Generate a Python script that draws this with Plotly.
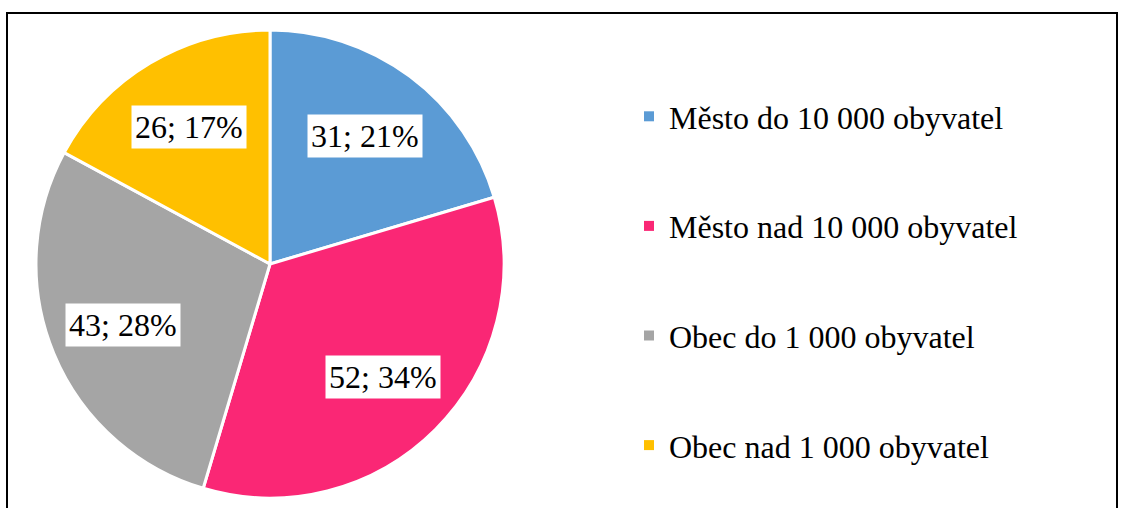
import math
import plotly.graph_objects as go

# Respondents by place of residence
categories = ["Město do 10 000 obyvatel", "Město nad 10 000 obyvatel",
              "Obec do 1 000 obyvatel", "Obec nad 1 000 obyvatel"]
counts = [31, 52, 43, 26]
percent_labels = ["21%", "34%", "28%", "17%"]
colors = ["#5B9BD5", "#FA2775", "#A5A5A5", "#FFC000"]

W, H = 1124, 508
cx, cy, R = 270, 264, 234  # pie centre and radius in pixels
SERIF = "Times New Roman, Liberation Serif, serif"

fig = go.Figure()
fig.add_trace(go.Pie(
    labels=categories,
    values=counts,
    sort=False,
    direction="clockwise",
    rotation=0,
    marker=dict(colors=colors, line=dict(color="white", width=3)),
    textinfo="none",
    hoverinfo="label+value+percent",
    showlegend=False,
    domain=dict(x=[(cx - R) / W, (cx + R) / W],
                y=[1 - (cy + R) / H, 1 - (cy - R) / H]),
))

# Legend entries (one group each so they can be spaced apart)
for name, col in zip(categories, colors):
    fig.add_trace(go.Scatter(
        x=[None], y=[None], mode="markers", name=name, legendgroup=name,
        marker=dict(symbol="square", size=10, color=col),
    ))

# Data labels in white boxes at each slice's mid angle
total = sum(counts)
start = 0.0
annotations = []
for v, pct in zip(counts, percent_labels):
    mid = (start + v / 2) / total * 2 * math.pi
    start += v
    r = 0.68 * R
    px = cx + r * math.sin(mid)
    py = cy - r * math.cos(mid)
    annotations.append(dict(
        x=px / W, y=1 - py / H, xref="paper", yref="paper",
        xanchor="center", yanchor="middle",
        text=f"{v}; {pct}", showarrow=False,
        font=dict(family=SERIF, size=32, color="black"),
        bgcolor="white", borderpad=3,
    ))

fig.update_layout(
    width=W, height=H,
    margin=dict(l=0, r=0, t=0, b=0),
    paper_bgcolor="white",
    plot_bgcolor="white",
    xaxis=dict(visible=False),
    yaxis=dict(visible=False),
    showlegend=True,
    legend=dict(
        x=629 / W, y=1 - 89 / H, xanchor="left", yanchor="top",
        font=dict(family=SERIF, size=32, color="black"),
        tracegroupgap=65, bgcolor="rgba(0,0,0,0)",
    ),
    annotations=annotations,
    shapes=[dict(type="rect", xref="paper", yref="paper",
                 x0=7 / W, x1=1117 / W, y0=-0.1, y1=1 - 13 / H,
                 line=dict(color="black", width=2), layer="below")],
)

fig.write_html("out.html")
